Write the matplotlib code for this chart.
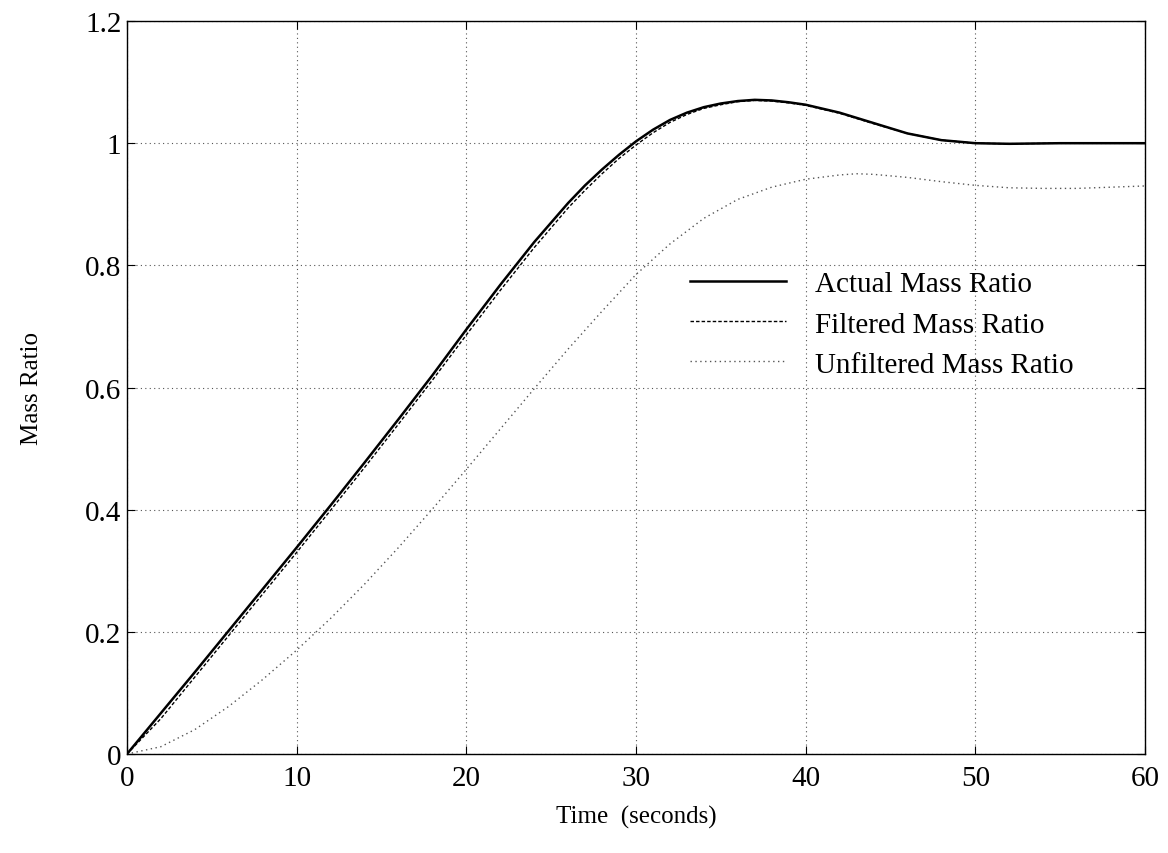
import matplotlib
matplotlib.use('Agg')
import matplotlib.pyplot as plt
from matplotlib.ticker import FuncFormatter

# time axis (seconds) and the three mass ratio traces
t_act = [0, 2, 4, 6, 8, 10, 12, 14, 16, 18, 20, 22, 24, 26, 27, 28, 29, 30, 31, 32, 33, 34,
         35, 36, 37, 38, 39, 40, 42, 44, 46, 48, 50, 52, 55, 60]
actual = [0, 0.067, 0.134, 0.202, 0.27, 0.338, 0.407, 0.477, 0.548, 0.62, 0.695, 0.768,
          0.838, 0.902, 0.931, 0.957, 0.981, 1.003, 1.022, 1.038, 1.05, 1.059,
          1.065, 1.069, 1.071, 1.07, 1.067, 1.063, 1.05, 1.033, 1.016, 1.005, 1.0, 0.999, 1.0, 1.0]
filtered = [0, 0.058, 0.126, 0.194, 0.262, 0.33, 0.399, 0.469, 0.54, 0.612, 0.686, 0.759,
            0.829, 0.894, 0.923, 0.95, 0.975, 0.997, 1.017, 1.034, 1.047, 1.057,
            1.063, 1.068, 1.07, 1.069, 1.066, 1.062, 1.049, 1.032, 1.016, 1.005, 1.0, 0.999, 1.0, 1.0]

t_unf = [0, 2, 4, 6, 8, 10, 12, 14, 16, 18, 20, 22, 24, 26, 28, 30, 32, 34, 36, 38, 40,
         42, 43, 44, 46, 48, 50, 52, 54, 56, 58, 60]
unfiltered = [0, 0.012, 0.04, 0.078, 0.122, 0.17, 0.222, 0.278, 0.338, 0.401, 0.466, 0.532,
              0.598, 0.663, 0.725, 0.785, 0.835, 0.877, 0.908, 0.928, 0.941,
              0.948, 0.95, 0.949, 0.944, 0.937, 0.931, 0.927, 0.926, 0.926, 0.928, 0.93]

x_ticks = [0, 10, 20, 30, 40, 50, 60]
y_ticks = [0, 0.2, 0.4, 0.6, 0.8, 1.0, 1.2]

plt.rcParams['font.family'] = ['Liberation Serif', 'DejaVu Serif']

fig = plt.figure(figsize=(11.68, 8.54), dpi=100)
ax = fig.add_axes([0.1087, 0.1159, 0.8716, 0.8583])

ax.plot(t_act, actual, color='black', lw=1.8, label='Actual Mass Ratio')
ax.plot(t_act, filtered, color='black', lw=1.0, linestyle=(0, (2.5, 1.5)),
        label='Filtered Mass Ratio')
ax.plot(t_unf, unfiltered, color='#555555', lw=1.0, linestyle=(0, (1, 2.5)),
        label='Unfiltered Mass Ratio')

ax.set_xlim(0, 60)
ax.set_ylim(0, 1.2)
ax.set_xticks(x_ticks)
ax.set_yticks(y_ticks)
ax.yaxis.set_major_formatter(FuncFormatter(lambda v, p: '%g' % v))
ax.tick_params(direction='in', length=6, labelsize=21, top=True, right=True)
ax.tick_params(axis='y', pad=4)
ax.tick_params(axis='x', pad=8)
ax.grid(True, color='#555555', linestyle=(0, (1, 3)), lw=0.8)
for s in ax.spines.values():
    s.set_linewidth(1.0)

ax.set_xlabel('Time  (seconds)', fontsize=18, labelpad=10)
ax.set_ylabel('Mass Ratio', fontsize=18, labelpad=30)

ax.legend(loc='upper left', bbox_to_anchor=(0.553, 0.659), frameon=False,
          fontsize=21, handlelength=3.3, handletextpad=1.0, labelspacing=0.47,
          borderpad=0, borderaxespad=0)

fig.savefig('out.png', dpi=100)
